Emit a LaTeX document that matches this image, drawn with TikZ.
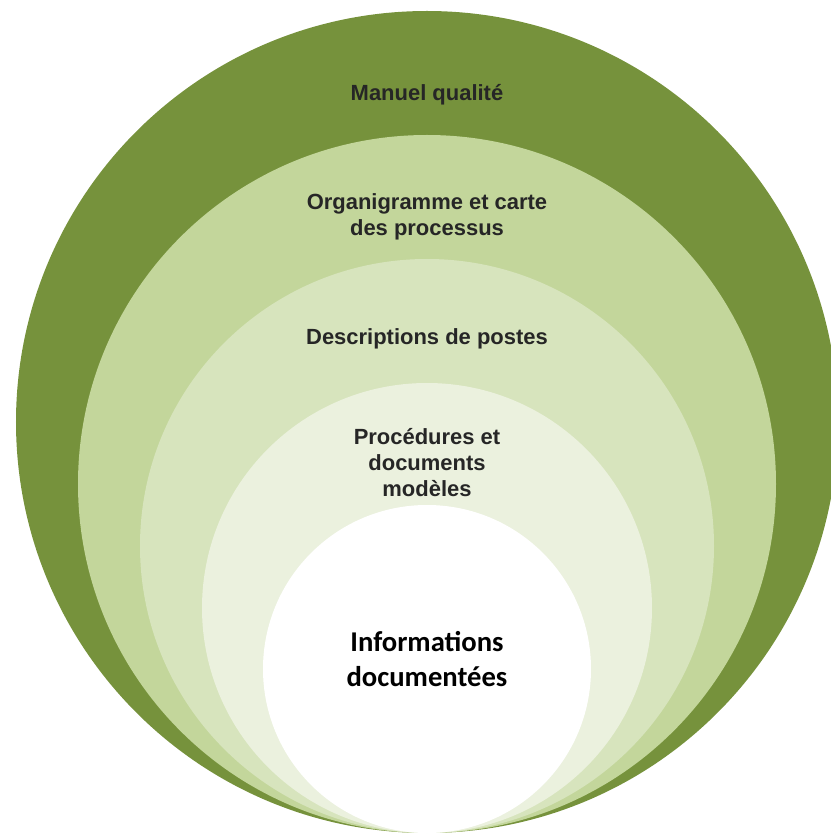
\documentclass[tikz,border=0pt]{standalone}
\usepackage{fontspec}
\usepackage{tikz}
\newfontfamily\ringfont{Liberation Sans}
\newfontfamily\corefont{Carlito}
\definecolor{ringA}{HTML}{76923C}
\definecolor{ringB}{HTML}{C3D69B}
\definecolor{ringC}{HTML}{D7E4BD}
\definecolor{ringD}{HTML}{EBF1DE}
\tikzset{
    ringtext/.style={align=center, text=black!85, font=\ringfont\bfseries\fontsize{12.5}{15}\selectfont},
    coretext/.style={align=center, text=black, font=\corefont\bfseries\fontsize{16.3}{19.4}\selectfont}
}

\begin{document}
\begin{tikzpicture}
    \useasboundingbox (0, 0) rectangle (16.62, 16.76);
    % nested circles, all touching at the bottom
    \fill[ringA] (8.54, 8.32) circle (8.22);
    \fill[ringB] (8.54, 7.08) circle (6.98);
    \fill[ringC] (8.54, 5.84) circle (5.74);
    \fill[ringD] (8.54, 4.60) circle (4.50);
    \fill[white] (8.54, 3.38) circle (3.28);
    \node[ringtext, anchor=base] (manuel) at (8.54, 14.75) {Manuel qualité};
    \node[ringtext] (organi) at (8.54, 12.42) {Organigramme et carte\\des processus};
    \node[ringtext, anchor=base] (postes) at (8.54, 9.86) {Descriptions de postes};
    \node[ringtext] (proced) at (8.54, 7.51) {Procédures et\\documents\\modèles};
    \node[coretext] (infos) at (8.54, 3.58) {Informations\\documentées};
\end{tikzpicture}
\end{document}
